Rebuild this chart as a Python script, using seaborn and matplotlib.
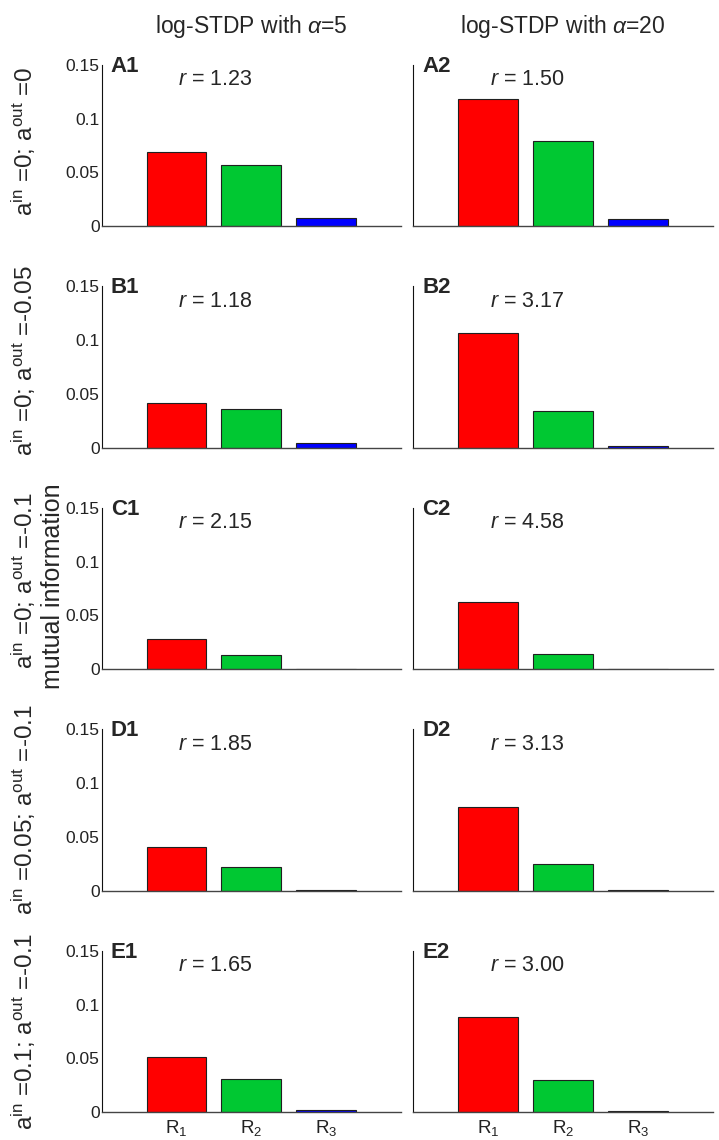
#!/usr/bin/env python3
# mutual information per readout, log-STDP alpha=5 vs alpha=20

import pandas as pd
import seaborn as sns
import matplotlib
matplotlib.use('Agg')
import matplotlib.pyplot as plt

# readouts
readouts = ['R$_1$', 'R$_2$', 'R$_3$']
bar_colors = ['#ff0000', '#00c832', '#0000ff']

# mutual information, one row per panel row (A..E)
mi_alpha5 = [
    [0.0694, 0.0566, 0.0078],
    [0.0420, 0.0356, 0.0044],
    [0.0284, 0.0136, 0.0006],
    [0.0407, 0.0220, 0.0010],
    [0.0514, 0.0313, 0.0022],
]
mi_alpha20 = [
    [0.1180, 0.0788, 0.0066],
    [0.1070, 0.0338, 0.0016],
    [0.0623, 0.0139, 0.0002],
    [0.0775, 0.0245, 0.0004],
    [0.0882, 0.0300, 0.0015],
]
r_alpha5 = ['1.23', '1.18', '2.15', '1.85', '1.65']
r_alpha20 = ['1.50', '3.17', '4.58', '3.13', '3.00']
row_letters = ['A', 'B', 'C', 'D', 'E']
row_labels = [
    r'$\mathrm{a}^{\mathrm{in}}$ =0; $\mathrm{a}^{\mathrm{out}}$ =0',
    r'$\mathrm{a}^{\mathrm{in}}$ =0; $\mathrm{a}^{\mathrm{out}}$ =-0.05',
    r'$\mathrm{a}^{\mathrm{in}}$ =0; $\mathrm{a}^{\mathrm{out}}$ =-0.1',
    r'$\mathrm{a}^{\mathrm{in}}$ =0.05; $\mathrm{a}^{\mathrm{out}}$ =-0.1',
    r'$\mathrm{a}^{\mathrm{in}}$ =0.1; $\mathrm{a}^{\mathrm{out}}$ =-0.1',
]
col_titles = [r'log-STDP with $\alpha$=5', r'log-STDP with $\alpha$=20']
y_ticks = [0, 0.05, 0.1, 0.15]
y_ticklabels = ['0', '0.05', '0.1', '0.15']

sns.set_style('white')
plt.rcParams['font.family'] = ['Liberation Sans', 'DejaVu Sans']
plt.rcParams['mathtext.fontset'] = 'custom'
plt.rcParams['mathtext.rm'] = 'Liberation Sans'
plt.rcParams['mathtext.it'] = 'Liberation Sans:italic'
plt.rcParams['mathtext.bf'] = 'Liberation Sans:bold'

W, H = 719, 1140
fig = plt.figure(figsize=(W / 100, H / 100), dpi=100)

col_left = [101.7, 413.3]
ax_w = 299.3
ax_h = 161.5
pitch = 221.5
zero0 = 226.3
label_shift = [-4, -6, -8, 0, 0]   # px, row label offset from axes centre

for i in range(5):
    bottom_px = zero0 + pitch * i
    for j, (mi, rv) in enumerate([(mi_alpha5, r_alpha5), (mi_alpha20, r_alpha20)]):
        ax = fig.add_axes([col_left[j] / W, 1 - bottom_px / H, ax_w / W, ax_h / H])
        df = pd.DataFrame({'readout': readouts, 'mi': mi[i]})
        sns.barplot(data=df, x='readout', y='mi', hue='readout',
                    palette=dict(zip(readouts, bar_colors)), legend=False,
                    saturation=1, width=0.8, edgecolor='#202020',
                    linewidth=0.8, ax=ax)
        ax.set_xlim(-1, 3)
        ax.set_ylim(0, 0.15)
        ax.set_xlabel('')
        ax.set_ylabel('')
        ax.set_yticks(y_ticks)
        if j == 0:
            ax.set_yticklabels(y_ticklabels)
        else:
            ax.set_yticklabels([])
        ax.set_xticks([0, 1, 2])
        if i == 4:
            ax.set_xticklabels(readouts)
        else:
            ax.set_xticklabels([])
        ax.tick_params(axis='y', direction='in', length=3, width=0.7,
                       labelsize=12.5, pad=1.5, colors='#222222')
        ax.tick_params(axis='x', direction='in', length=3, width=0.7,
                       labelsize=13.5, pad=4, colors='#222222')
        for s in ['top', 'right']:
            ax.spines[s].set_visible(False)
        ax.spines['left'].set_color('#111111')
        ax.spines['left'].set_linewidth(0.8)
        ax.spines['bottom'].set_color('#444444')
        ax.spines['bottom'].set_linewidth(1.0)
        ax.text(0.03, 0.99, row_letters[i] + str(j + 1), transform=ax.transAxes,
                fontsize=16, fontweight='bold', ha='left', va='center')
        ax.text(0.02, 0.136, r'$r$ = ' + rv[i], fontsize=15.5,
                ha='left', va='center')
    # row label on the far left
    fig.text(24 / W, 1 - (bottom_px - ax_h / 2 + label_shift[i]) / H,
             row_labels[i], rotation=90, ha='center', va='center',
             fontsize=17.5)

for j in range(2):
    fig.text((col_left[j] + ax_w / 2) / W, 1 - 26 / H, col_titles[j],
             ha='center', va='center', fontsize=16.5)

fig.text(53 / W, 1 - 586 / H, 'mutual information', rotation=90,
         ha='center', va='center', fontsize=18)

fig.savefig('out.png', dpi=100)
